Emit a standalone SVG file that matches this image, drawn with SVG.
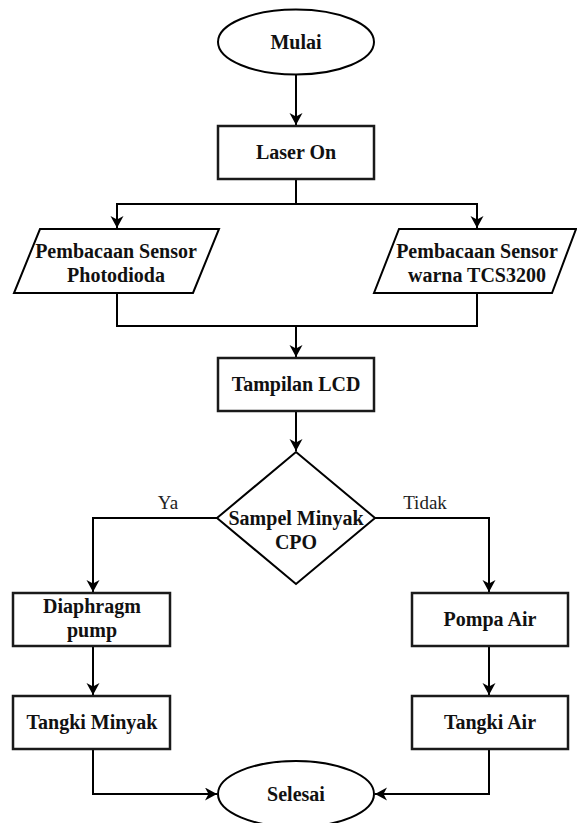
<svg xmlns="http://www.w3.org/2000/svg" width="577" height="823" viewBox="0 0 577 823" font-family="'Liberation Serif', 'Times New Roman', 'DejaVu Serif', serif">
  <style>
    .shape { fill: #ffffff; stroke: #000000; stroke-width: 2; }
    .box { fill: #ffffff; stroke: #1a1a1a; stroke-width: 2.5; }
    .edge { fill: none; stroke: #000000; stroke-width: 2; }
    text { font-family: "Liberation Serif", "Times New Roman", "DejaVu Serif", serif; }
    .lbl { font-size: 20px; font-weight: bold; fill: #111111; text-anchor: middle; }
    .elbl { font-size: 19px; fill: #222222; text-anchor: middle; }
  </style>
  <defs>
    <marker id="arrow" markerUnits="userSpaceOnUse" markerWidth="14" markerHeight="14" refX="12" refY="6.5" orient="auto">
      <path d="M0,0 L12,6.5 L0,13 L3.5,6.5 Z" fill="#000000"/>
    </marker>
  </defs>

  <g id="connectors">
    <path class="edge" d="M296,75 V125" marker-end="url(#arrow)"/>
    <path class="edge" d="M296,179 V204 H117 V228" marker-end="url(#arrow)"/>
    <path class="edge" d="M296,179 V204 H477 V228" marker-end="url(#arrow)"/>
    <path class="edge" d="M117,293 V326 H296"/>
    <path class="edge" d="M477,293 V326 H296 V357" marker-end="url(#arrow)"/>
    <path class="edge" d="M296,411 V451" marker-end="url(#arrow)"/>
    <path class="edge" d="M217,518 H93 V592" marker-end="url(#arrow)"/>
    <path class="edge" d="M375,518 H489 V592" marker-end="url(#arrow)"/>
    <path class="edge" d="M93,646 V695" marker-end="url(#arrow)"/>
    <path class="edge" d="M489,646 V695" marker-end="url(#arrow)"/>
    <path class="edge" d="M93,749 V794 H217" marker-end="url(#arrow)"/>
    <path class="edge" d="M489,749 V794 H375" marker-end="url(#arrow)"/>
    <text class="elbl" x="168" y="509">Ya</text>
    <text class="elbl" x="425" y="509">Tidak</text>
  </g>

  <g id="mulai">
    <ellipse class="shape" cx="296" cy="42" rx="78" ry="32.5"/>
    <text class="lbl" x="296" y="49">Mulai</text>
  </g>

  <g id="laser-on">
    <rect class="box" x="218" y="126" width="156" height="53"/>
    <text class="lbl" x="296" y="159">Laser On</text>
  </g>

  <g id="sensor-photodioda">
    <polygon class="shape" points="40,229 219,229 193,293 14,293"/>
    <text class="lbl" x="116" y="258">Pembacaan Sensor</text>
    <text class="lbl" x="116" y="282">Photodioda</text>
  </g>

  <g id="sensor-tcs3200">
    <polygon class="shape" points="399,229 576,229 552,293 374,293"/>
    <text class="lbl" x="477" y="258">Pembacaan Sensor</text>
    <text class="lbl" x="477" y="282">warna TCS3200</text>
  </g>

  <g id="tampilan-lcd">
    <rect class="box" x="218" y="358" width="156" height="53"/>
    <text class="lbl" x="296" y="391">Tampilan LCD</text>
  </g>

  <g id="sampel-minyak">
    <polygon class="shape" points="296,452 375,518 296,584 217,518"/>
    <text class="lbl" x="296" y="525">Sampel Minyak</text>
    <text class="lbl" x="296" y="549">CPO</text>
  </g>

  <g id="diaphragm-pump">
    <rect class="box" x="13" y="593" width="157" height="53"/>
    <text class="lbl" x="92" y="613">Diaphragm</text>
    <text class="lbl" x="92" y="637">pump</text>
  </g>

  <g id="pompa-air">
    <rect class="box" x="412" y="593" width="156" height="53"/>
    <text class="lbl" x="490" y="626">Pompa Air</text>
  </g>

  <g id="tangki-minyak">
    <rect class="box" x="13" y="696" width="157" height="53"/>
    <text class="lbl" x="92" y="729">Tangki Minyak</text>
  </g>

  <g id="tangki-air">
    <rect class="box" x="412" y="696" width="156" height="53"/>
    <text class="lbl" x="490" y="729">Tangki Air</text>
  </g>

  <g id="selesai">
    <ellipse class="shape" cx="296" cy="794" rx="78" ry="33"/>
    <text class="lbl" x="296" y="801">Selesai</text>
  </g>
</svg>
